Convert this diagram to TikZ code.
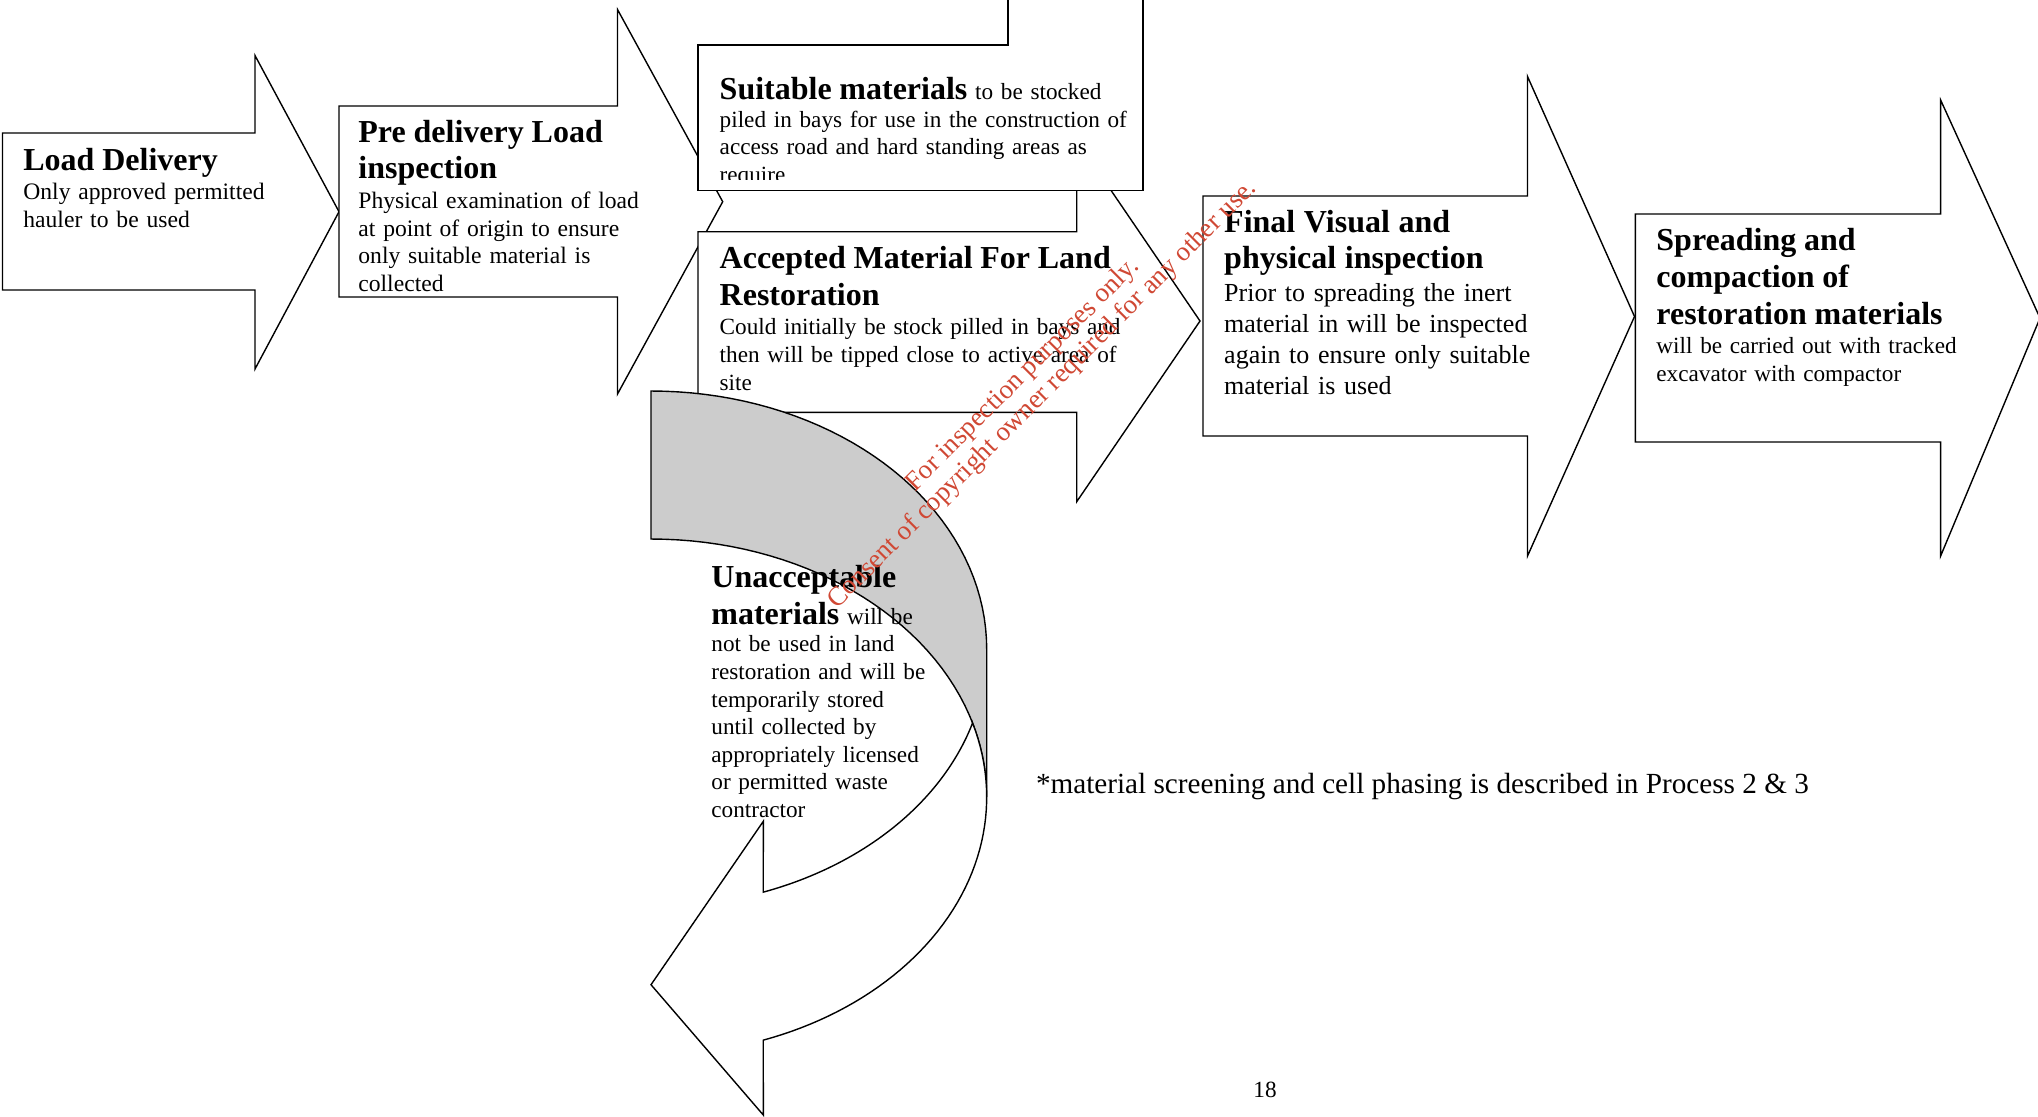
\documentclass[tikz,border=0pt]{standalone}
\usepackage{fontspec}
\setmainfont{Liberation Serif}
\newcommand{\headfnt}{\fontsize{16}{18.4}\selectfont\bfseries}
\newcommand{\bodyfnt}{\fontsize{11.6}{13.8}\selectfont\mdseries}
\definecolor{backgray}{RGB}{204,204,204}
\definecolor{markred}{RGB}{208,72,52}

\begin{document}
\begin{tikzpicture}
	[x=0.5pt, y=-0.5pt,
	blk/.style = {draw, fill=white, line width=0.7pt},
	txt/.style = {anchor=base west, inner sep=0pt, text width=260pt,
	align=left, font=\bodyfnt}]
	\useasboundingbox (0,0) rectangle (2038,1116);
	\clip (0,0) rectangle (2038,1116);
	\draw[blk] (2.5,133) -- (255,133) -- (255,55.5) -- (339,211.7) -- (255,369) -- (255,290) -- (2.5,290) -- cycle;
	\draw[blk] (339,106) -- (617.5,106) -- (617.5,9.5) -- (722.7,201.7) -- (617.5,394) -- (617.5,297) -- (339,297) -- cycle;
	\draw[blk] (698,231.7) -- (1076.7,231.7) -- (1076.7,140) -- (1200,321) -- (1076.7,501.7) -- (1076.7,412.3) -- (698,412.3) -- cycle;
	\draw[blk] (698,45) -- (1008,45) -- (1008,-20) -- (1143,-20) -- (1143,190.7) -- (698,190.7) -- cycle;
	\draw[blk, fill=backgray] plot[domain=90:0, samples=40] ({651+335.7*cos(\x)}, {649-258*sin(\x)})
		-- plot[domain=0:90, samples=40] ({651+335.7*cos(\x)}, {797-258*sin(\x)}) -- cycle;
	\draw[blk] plot[domain=16.67:-70.46, samples=50] ({651+335.7*cos(\x)}, {797-258*sin(\x)})
		-- (763.3,1115) -- (651,984.7) -- (763.3,821.3)
		-- plot[domain=-70.46:-16.67, samples=50] ({651+335.7*cos(\x)}, {649-258*sin(\x)}) -- cycle;
	\draw[blk] (1203,196) -- (1527.5,196) -- (1527.5,76.5) -- (1634.5,316.5) -- (1527.5,556) -- (1527.5,436) -- (1203,436) -- cycle;
	\draw[blk] (1635.3,214) -- (1940.6,214) -- (1940.6,100) -- (2040,318) -- (1940.6,556) -- (1940.6,442) -- (1635.3,442) -- cycle;

	\node[txt, font=\fontsize{11.8}{13.8}\selectfont] (load) at (23,170) {{\headfnt Load Delivery\par\vspace{1pt}}
		Only approved permitted\\ hauler to be used};
	\node[txt, font=\fontsize{11.8}{13.8}\selectfont] (pre) at (358,142) {{\headfnt Pre delivery Load\\ inspection\par\vspace{1pt}}
		Physical examination of load\\ at point of origin to ensure\\ only suitable material is\\ collected};
	\begin{scope}
		\clip (698,45) rectangle (1143,179);
		\node[txt] (suit) at (719.3,99.5) {{\headfnt Suitable materials} to be stocked\\
			piled in bays for use in the construction of\\ access road and hard standing areas as\\ require};
	\end{scope}
	\node[txt] (acc) at (719.3,268.5) {{\headfnt Accepted Material For Land\\ Restoration\par\vspace{1pt}}
		Could initially be stock pilled in bays and\\ then will be tipped close to active area of\\ site};
	\node[txt] (unacc) at (711,587.5) {{\headfnt Unacceptable\\ materials {\bodyfnt will be}\par}
		not be used in land\\ restoration and will be\\ temporarily stored\\ until collected by\\
		appropriately licensed\\ or permitted waste\\ contractor};
	\node[txt, font=\fontsize{13}{15.5}\selectfont] (final) at (1223.8,232) {{\headfnt Final Visual and\\ physical inspection\par\vspace{1pt}}
		Prior to spreading the inert\\ material in will be inspected\\ again to ensure only suitable\\ material is used};
	\node[txt] (spread) at (1656,250.5) {{\headfnt Spreading and\\ compaction of\\ restoration materials\par\vspace{1pt}}
		will be carried out with tracked\\ excavator with compactor};
	\node[anchor=base west, inner sep=0pt, font=\fontsize{14.6}{16}\selectfont] (note) at (1035.6,793.5)
		{*material screening and cell phasing is described in Process 2 \& 3};
	\node[anchor=base, inner sep=0pt, font=\bodyfnt] (page) at (1265,1097) {18};
	\node[rotate=45, text=markred, align=center, inner sep=0pt, font=\fontsize{13.5}{14}\selectfont] (mark) at (1033,385)
		{For inspection purposes only.\\ Consent of copyright owner required for any other use.};
\end{tikzpicture}
\end{document}
